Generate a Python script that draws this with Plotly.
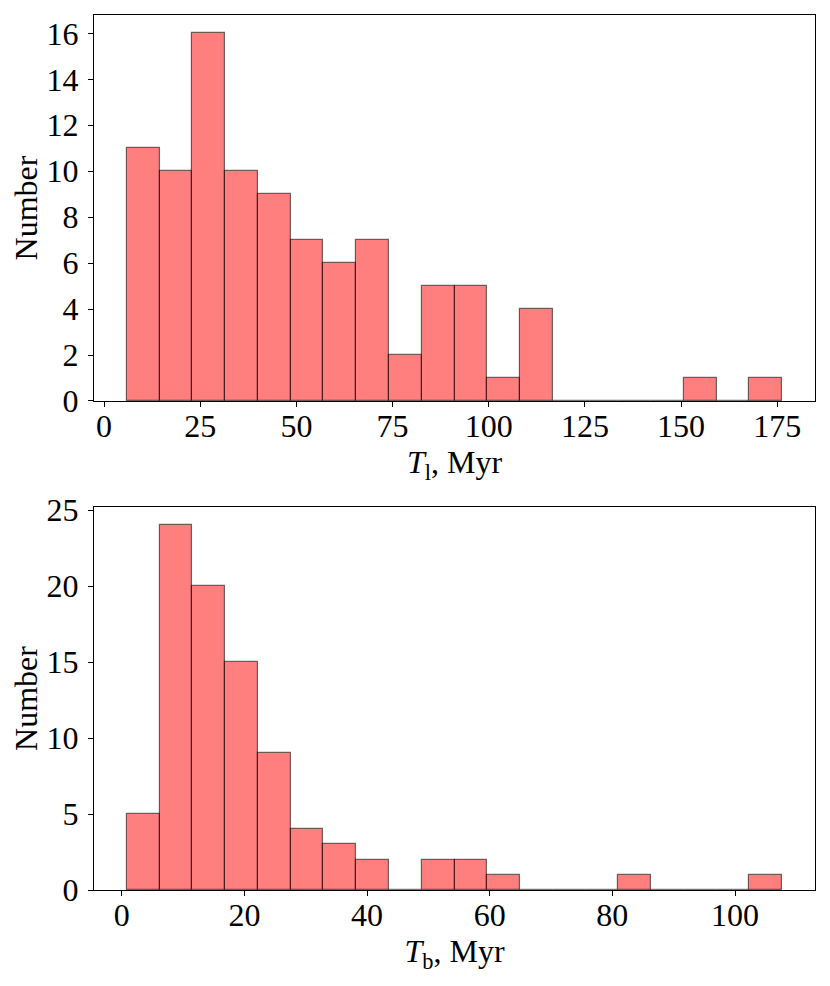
import numpy as np
import plotly.graph_objects as go

# Top histogram: T_l, Myr
tl_min = 5.9
tl_max = 176.3
tl_counts = [11, 10, 16, 10, 9, 7, 6, 7, 2, 5, 5, 1, 4, 0, 0, 0, 0, 1, 0, 1]
tl_ticks = [0, 25, 50, 75, 100, 125, 150, 175]
tl_yticks = [0, 2, 4, 6, 8, 10, 12, 14, 16]

# Bottom histogram: T_b, Myr
tb_min = 0.82
tb_max = 107.7
tb_counts = [5, 24, 20, 15, 9, 4, 3, 2, 0, 2, 2, 1, 0, 0, 0, 1, 0, 0, 0, 1]
tb_ticks = [0, 20, 40, 60, 80, 100]
tb_yticks = [0, 5, 10, 15, 20, 25]

FONT = "Liberation Serif"
FS = 32

def bars(lo, hi, counts, xa, ya):
    edges = np.linspace(lo, hi, len(counts) + 1)
    w = edges[1] - edges[0]
    centers = (edges[:-1] + edges[1:]) / 2
    return go.Bar(
        x=centers, y=counts, width=w,
        marker=dict(color="rgba(255,0,0,0.5)",
                    line=dict(color="rgba(0,0,0,0.55)", width=1.2)),
        xaxis=xa, yaxis=ya, showlegend=False, hoverinfo="x+y",
    )

fig = go.Figure()
fig.add_trace(bars(tl_min, tl_max, tl_counts, "x", "y"))
fig.add_trace(bars(tb_min, tb_max, tb_counts, "x2", "y2"))

def pad(lo, hi):
    m = (hi - lo) * 0.05
    return [lo - m, hi + m]

axis_common = dict(
    showline=True, mirror=True, linecolor="black", linewidth=1.1,
    ticks="outside", ticklen=5, tickwidth=1.1, tickcolor="black",
    showgrid=False, zeroline=False, automargin=False,
    tickfont=dict(family=FONT, size=FS, color="black"),
)

fig.update_layout(
    width=822, height=978,
    margin=dict(l=86, r=15, t=7, b=96),
    paper_bgcolor="white", plot_bgcolor="white",
    bargap=0,
    font=dict(family=FONT, size=FS, color="black"),
    xaxis=dict(**axis_common, domain=[0, 1], anchor="y",
               range=pad(tl_min, tl_max), tickvals=tl_ticks, ticklabelstandoff=-8,
               title=dict(text="<i>T</i><sub>l</sub>, Myr", standoff=0,
                          font=dict(family=FONT, size=FS))),
    yaxis=dict(**axis_common, domain=[0.5589, 1], anchor="x",
               range=[0, max(tl_counts) * 1.05], tickvals=tl_yticks, ticklabelstandoff=3,
               title=dict(text="Number", standoff=0,
                          font=dict(family=FONT, size=FS))),
    xaxis2=dict(**axis_common, domain=[0, 1], anchor="y2",
                range=pad(tb_min, tb_max), tickvals=tb_ticks, ticklabelstandoff=-8,
                title=dict(text="<i>T</i><sub>b</sub>, Myr", standoff=0,
                           font=dict(family=FONT, size=FS))),
    yaxis2=dict(**axis_common, domain=[0, 0.4377], anchor="x2",
                range=[0, max(tb_counts) * 1.05], tickvals=tb_yticks, ticklabelstandoff=3,
                title=dict(text="Number", standoff=0,
                           font=dict(family=FONT, size=FS))),
)

fig.write_html("out.html")
